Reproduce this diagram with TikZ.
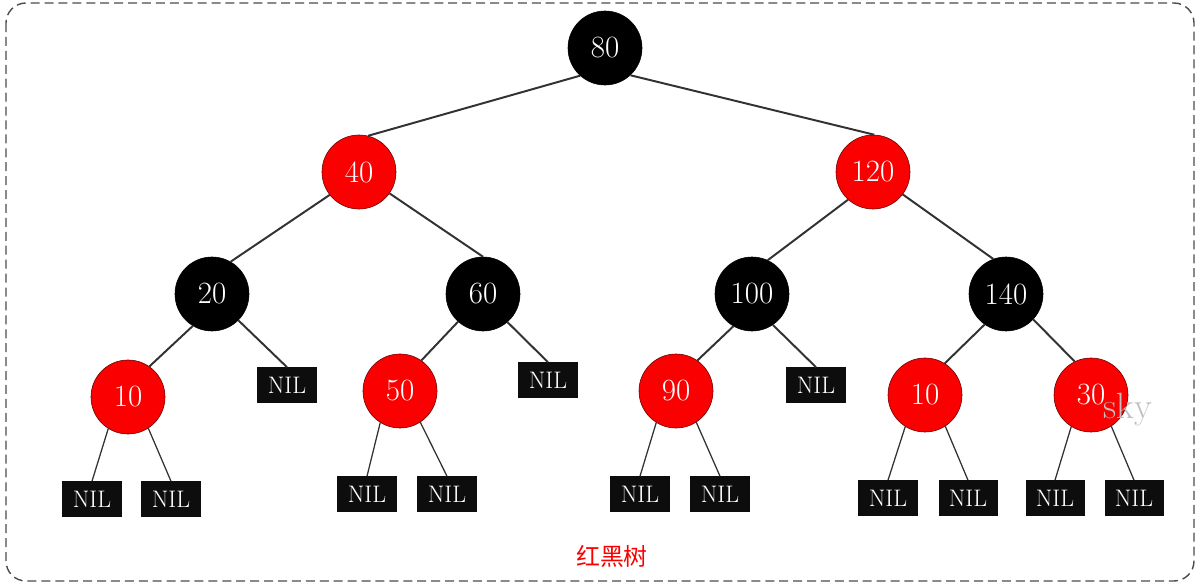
\documentclass[tikz,border=0pt]{standalone}
\usepackage{fontspec}
\newfontfamily\cjk{Noto Sans CJK SC}
\usepackage{tikz}
\definecolor{rbred}{RGB}{250,0,0}
\definecolor{rbedge}{RGB}{50,50,50}
\tikzstyle{rb}=[circle, inner sep=0mm, minimum size=1.85cm, text=white, font=\fontsize{22pt}{24pt}\selectfont]
\tikzstyle{rednode}=[rb, draw=black!60!red, fill=rbred]
\tikzstyle{blacknode}=[rb, draw=black, fill=black]
\tikzstyle{nil}=[rectangle, fill=black!95, text=white, inner sep=0mm, minimum width=1.475cm, minimum height=0.875cm, font=\fontsize{17pt}{19pt}\selectfont]
\tikzstyle{e}=[draw=rbedge, line width=1.4pt]
\tikzstyle{thin}=[draw=rbedge, line width=0.9pt]

\begin{document}
\begin{tikzpicture}[x=0.025cm, y=-0.025cm]
\useasboundingbox (0,0) rectangle (1199,584);
\draw[black!70, line width=1pt, dash pattern=on 6.4pt off 3.5pt, rounded corners=0.5cm] (6,3) rectangle (1194,581);
% inner tree nodes
\foreach \n/\x/\y in {80/605/48, 20/212/294, 60/483/294, 100/752/294, 140/1006/294}
  \node[blacknode] (n\n) at (\x, \y) {\n};
\node[rednode] (n40) at (359,172) {40};
\node[rednode] (n120) at (873,172) {120};
\node[rednode] (n10a) at (128,397) {10};
\node[rednode] (n50) at (400,391) {50};
\node[rednode] (n90) at (676,391) {90};
\node[rednode] (n10b) at (925,395) {10};
\node[rednode] (n30) at (1091,395) {30};
% leaves
\foreach \n/\x/\y in {nil20/287/385, nil60/548/380, nil100/816/385,
  nilA/92/499, nilB/171/499, nilC/367/494, nilD/447/494, nilE/640/494,
  nilF/720/494, nilG/888/498, nilH/968/498, nilI/1055/498, nilJ/1134/498}
  \node[nil] (\n) at (\x, \y) {NIL};
% edges
\foreach \f/\a/\t/\b in {n80/-132/n40/76, n80/-47/n120/88, n40/-142/n20/60,
  n40/-35/n60/90, n120/-132/n100/65, n120/-37/n140/110, n20/-121/n10a/55,
  n20/-45/nil20/north, n60/-132/n50/55, n60/-49/nil60/north, n100/-120/n90/55,
  n100/-56/nil100/north, n140/-125/n10b/58, n140/-43/n30/116}
  \draw[e] (\f.\a) -- (\t.\b);
\foreach \f/\l/\r in {n10a/nilA/nilB, n50/nilC/nilD, n90/nilE/nilF,
  n10b/nilG/nilH, n30/nilI/nilJ}
{
  \draw[thin] (\f.-122) -- (\l.north);
  \draw[thin] (\f.-57) -- (\r.north);
}
\node[text=black!25, font=\fontsize{26pt}{28pt}\selectfont] (sky) at (1128,410) {sky};
\node[text=rbred, font=\cjk\fontsize{17pt}{19pt}\selectfont] (title) at (612,556) {红黑树};
\end{tikzpicture}
\end{document}
